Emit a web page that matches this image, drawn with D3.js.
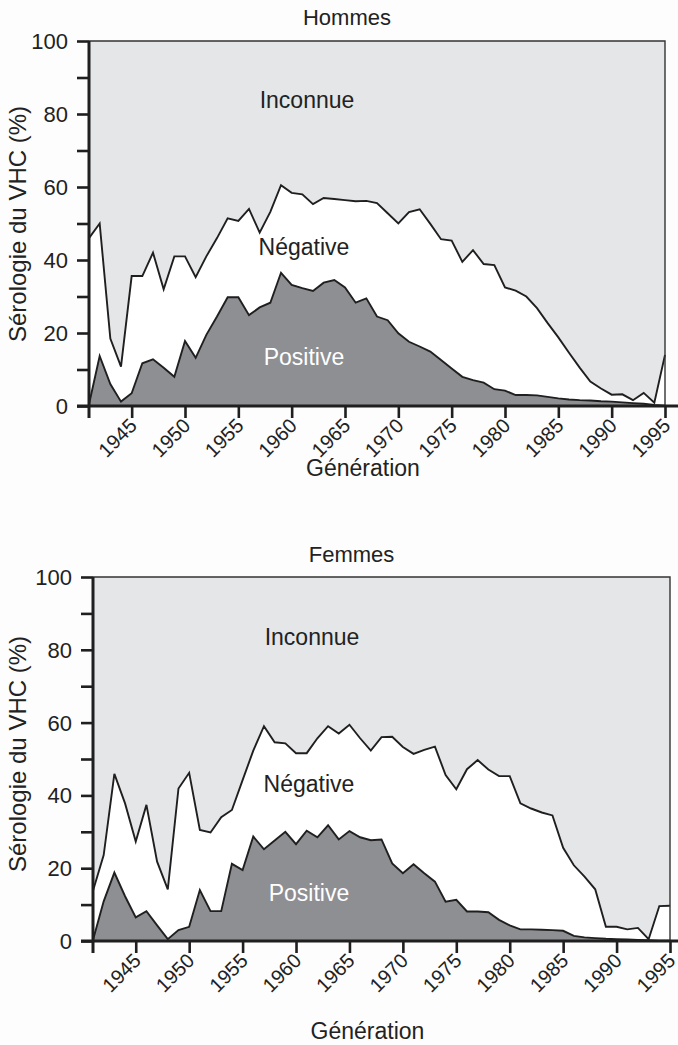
<!DOCTYPE html>
<html>
<head>
<meta charset="utf-8">
<script src="https://cdn.jsdelivr.net/npm/d3@7/dist/d3.min.js"></script>
<style>
  body { margin: 0; background: #fdfdfd; }
  svg { display: block; font-family: "Liberation Sans", Arial, sans-serif; }
</style>
</head>
<body>
<svg width="678" height="1045"></svg>
<script>
// generations 1941 -> 1995
const firstYear = 1941, lastYear = 1995;
const years = d3.range(firstYear, lastYear + 1);

// % of each generation, men
const hommesPositive = [0.5, 13.7, 6, 1.2, 3.5, 11.7, 12.8, 10.5, 8, 17.8,
  13.2, 19.5, 24.5, 29.8, 29.8, 24.9, 27, 28.3, 36.5, 33.2,
  32.3, 31.5, 33.8, 34.5, 32.5, 28.3, 29.5, 24.5, 23.5, 19.9,
  17.6, 16.3, 14.9, 12.6, 10.3, 8, 7.1, 6.4, 4.6, 4.2,
  3, 3, 2.9, 2.5, 2.1, 1.8, 1.6, 1.5, 1.3, 1.2,
  1, 0.8, 0.6, 0.3, 0.1];
const hommesNegative = [45.5, 36.3, 12.5, 9.6, 32.1, 23.9, 29.2, 21.5, 33, 23.2,
  22.1, 21.5, 21.5, 21.6, 20.9, 29.1, 20.5, 24.9, 24, 25.2,
  25.7, 23.8, 23.2, 22.2, 23.9, 27.8, 26.7, 31.1, 29.3, 30.1,
  35.5, 37.6, 35, 33.1, 35, 31.5, 35.6, 32.5, 34, 28.3,
  28.6, 27, 23.9, 20.2, 16.7, 12.8, 8.9, 5.2, 3.5, 1.9,
  2.2, 0.8, 3, 0.6, 13.9];

// % of each generation, women
const femmesPositive = [0.3, 10.9, 18.8, 12.3, 6.5, 8.2, 4.3, 0.5, 3, 3.9,
  14, 8.2, 8.2, 21.2, 19.5, 28.7, 25.2, 27.6, 30, 26.6,
  30.3, 28.5, 31.8, 27.9, 30.2, 28.5, 27.7, 27.9, 21.3, 18.6,
  21.1, 18.6, 16.3, 10.8, 11.3, 8.1, 8.1, 7.9, 5.8, 4.3,
  3.2, 3.2, 3.1, 3, 2.8, 1.4, 1, 0.8, 0.6, 0.5,
  0.4, 0.3, 0.2, 0.1, 0.1];
const femmesNegative = [13.5, 12.7, 27.1, 25.5, 20.8, 29.2, 17.5, 13.7, 38.9, 42.3,
  16.5, 21.6, 25.8, 14.8, 24.7, 23.6, 33.8, 27, 24.3, 25,
  21.3, 27.2, 27.2, 29.1, 29.2, 27.2, 24.6, 28.1, 34.8, 34.7,
  30.3, 33.9, 37.1, 34.8, 30.4, 39.1, 41.6, 39.2, 39.5, 41,
  34.6, 33.2, 32.2, 31.5, 22.8, 19.4, 16.7, 13.4, 3.3, 3.4,
  2.8, 3.3, 0.3, 9.5, 9.6];

const xTicks = [1945, 1950, 1955, 1960, 1965, 1970, 1975, 1980, 1985, 1990, 1995];
const yTicks = [0, 10, 20, 30, 40, 50, 60, 70, 80, 90, 100];
const keys = ["positive", "negative", "inconnue"];
const areaNames = { positive: "Positive", negative: "Négative", inconnue: "Inconnue" };

const fills = { positive: "#8e8f93", negative: "#ffffff", inconnue: "#e5e6e8" };
const ink = "#1f1f1f";

const svg = d3.select("svg");

const panels = [
  { title: "Hommes", pos: hommesPositive, neg: hommesNegative,
    left: 89, right: 665, top: 41, bottom: 406, titleY: 25, xTitleY: 476, yTitleY: 224,
    labels: { inconnue: [307, 108], negative: [304, 255], positive: [304, 365] } },
  { title: "Femmes", pos: femmesPositive, neg: femmesNegative,
    left: 93, right: 670, top: 577, bottom: 941, titleY: 562, xTitleY: 1039, yTitleY: 754,
    labels: { inconnue: [312, 645], negative: [309, 792], positive: [309, 901] } }
];

panels.forEach(drawPanel);

function drawPanel(p) {
  const x = d3.scaleLinear().domain([firstYear, lastYear]).range([p.left, p.right]);
  const y = d3.scaleLinear().domain([0, 100]).range([p.bottom, p.top]);

  const rows = years.map((yr, i) => ({
    year: yr,
    positive: p.pos[i],
    negative: p.neg[i],
    inconnue: 100 - p.pos[i] - p.neg[i]
  }));
  const series = d3.stack().keys(keys)(rows);

  const g = svg.append("g");

  const area = d3.area()
    .x(d => x(d.data.year))
    .y0(d => y(d[0]))
    .y1(d => y(d[1]));

  g.selectAll(".layer")
    .data(series)
    .join("path")
    .attr("class", "layer")
    .attr("fill", d => fills[d.key])
    .attr("d", area);

  const line = d3.line()
    .x(d => x(d.data.year))
    .y(d => y(d[1]));

  g.selectAll(".edge")
    .data(series.slice(0, 2))
    .join("path")
    .attr("class", "edge")
    .attr("fill", "none")
    .attr("stroke", ink)
    .attr("stroke-width", 1.9)
    .attr("d", line);

  // thin frame top and right
  g.append("path")
    .attr("fill", "none")
    .attr("stroke", "#333")
    .attr("stroke-width", 1.4)
    .attr("d", `M${p.left},${p.top}H${p.right}V${p.bottom}`);

  // y axis
  const yAxis = d3.axisLeft(y)
    .tickValues(yTicks)
    .tickSize(12)
    .tickPadding(9)
    .tickFormat(d => d % 20 === 0 ? d : "");
  const ya = g.append("g")
    .attr("transform", `translate(${p.left},0)`)
    .call(yAxis);
  ya.select(".domain").remove();
  ya.selectAll(".tick line").attr("stroke", ink).attr("stroke-width", 2.6);
  ya.selectAll(".tick text")
    .attr("fill", "#222")
    .attr("font-size", 22)
    .attr("dy", "0.34em");

  // x axis
  const xAxis = d3.axisBottom(x)
    .tickValues(xTicks)
    .tickSize(12)
    .tickFormat("");
  const xa = g.append("g")
    .attr("transform", `translate(0,${p.bottom})`)
    .call(xAxis);
  xa.select(".domain").remove();
  xa.selectAll(".tick line").attr("stroke", ink).attr("stroke-width", 2.6);
  xa.selectAll(".tick")
    .append("text")
    .attr("fill", "#222")
    .attr("font-size", 20)
    .attr("text-anchor", "end")
    .attr("transform", "translate(6,21) rotate(-45)")
    .text(d => d);

  // axis lines
  g.append("line")
    .attr("x1", p.left).attr("x2", p.left)
    .attr("y1", p.top).attr("y2", p.bottom + 12)
    .attr("stroke", ink).attr("stroke-width", 3);
  g.append("line")
    .attr("x1", p.left - 12).attr("x2", 678)
    .attr("y1", p.bottom).attr("y2", p.bottom)
    .attr("stroke", ink).attr("stroke-width", 3);

  // titles
  g.append("text")
    .attr("x", (p.left + p.right) / 2 - 30)
    .attr("y", p.titleY)
    .attr("text-anchor", "middle")
    .attr("font-size", 22)
    .attr("fill", "#222")
    .text(p.title);

  g.append("text")
    .attr("x", (p.left + p.right) / 2 - 14)
    .attr("y", p.xTitleY)
    .attr("text-anchor", "middle")
    .attr("font-size", 23)
    .attr("fill", "#222")
    .text("Génération");

  g.append("text")
    .attr("transform", `translate(26,${p.yTitleY}) rotate(-90)`)
    .attr("text-anchor", "middle")
    .attr("font-size", 24)
    .attr("fill", "#222")
    .text("Sérologie du VHC (%)");

  // area labels
  keys.forEach(k => {
    g.append("text")
      .attr("x", p.labels[k][0])
      .attr("y", p.labels[k][1])
      .attr("text-anchor", "middle")
      .attr("font-size", 23)
      .attr("fill", k === "positive" ? "#ffffff" : "#222")
      .text(areaNames[k]);
  });
}
</script>
</body>
</html>
